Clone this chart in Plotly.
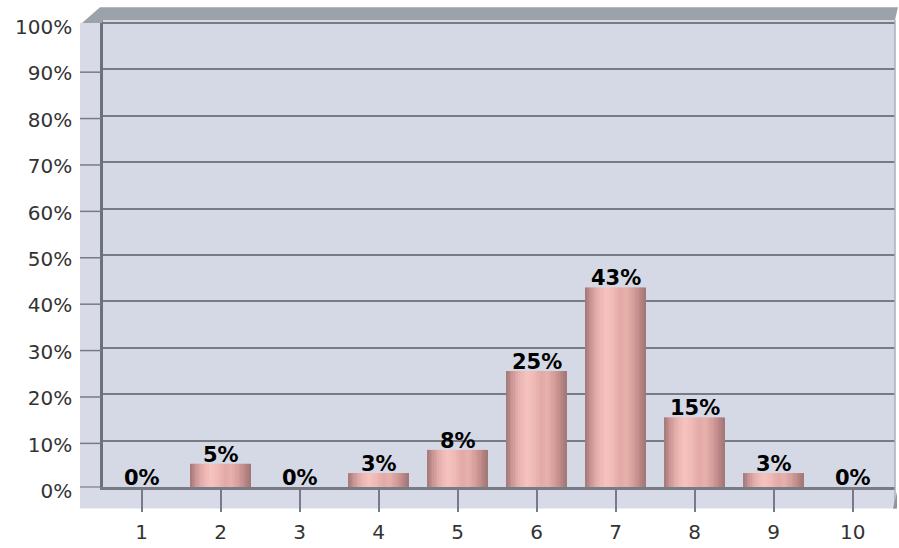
import plotly.graph_objects as go

categories = [1, 2, 3, 4, 5, 6, 7, 8, 9, 10]
values = [0, 5, 0, 3, 8, 25, 43, 15, 3, 0]
y_ticks = [0, 10, 20, 30, 40, 50, 60, 70, 80, 90, 100]
y_tick_labels = [f"{v}%" for v in y_ticks]
bar_labels = [f"{v}%" for v in values]

W, H = 899, 548
L, R, T, B = 103, 4, 20, 52
PW, PH = W - L - R, H - T - B


def px(x):
    return (x - L) / PW


def py(y):
    return (H - B - y) / PH


def hex2rgb(h):
    h = h.lstrip("#")
    return [int(h[i:i + 2], 16) for i in (0, 2, 4)]


def lerp(c1, c2, t):
    a, b = hex2rgb(c1), hex2rgb(c2)
    return "rgb(%d,%d,%d)" % tuple(round(a[k] + (b[k] - a[k]) * t) for k in range(3))


fig = go.Figure()

# cylinder-like shading: key colours across the bar width
keys = [(0.0, "#a27677"), (0.08, "#c69291"), (0.2, "#e6b0ad"), (0.33, "#f6c3bf"),
        (0.45, "#f0bab7"), (0.58, "#e2aaa7"), (0.68, "#e7b0ad"), (0.8, "#d49e9b"),
        (0.92, "#b98584"), (1.0, "#9e7576")]
bw = 0.76
n = 36
sw = bw / n
for i in range(n):
    t = (i + 0.5) / n
    for j in range(len(keys) - 1):
        if keys[j][0] <= t <= keys[j + 1][0]:
            f = (t - keys[j][0]) / (keys[j + 1][0] - keys[j][0])
            col = lerp(keys[j][1], keys[j + 1][1], f)
            break
    fig.add_trace(go.Bar(
        x=categories, y=values,
        width=[sw * 1.15] * len(categories),
        offset=[-bw / 2 + i * sw] * len(categories),
        marker=dict(color=col, line=dict(width=0)),
        hoverinfo="skip", showlegend=False,
    ))

for xv, yv, t in zip(categories, values, bar_labels):
    fig.add_annotation(x=xv, y=yv, text=t, showarrow=False, xanchor="center",
                       yanchor="bottom", yshift=-5,
                       font=dict(family="DejaVu Sans", size=21, color="#000000", weight="bold"))

shapes = []
wall = "#d8dbe7"
# left wall + floor
shapes.append(dict(type="path", xref="paper", yref="paper", layer="below",
                   path=f"M {px(80)} {py(23)} L {px(103)} {py(20)} L {px(103)} {py(496)} L {px(895)} {py(496)} "
                        f"L {px(895)} {py(518)} L {px(80)} {py(518)} Z",
                   fillcolor=wall, line=dict(width=0)))
# top band
shapes.append(dict(type="path", xref="paper", yref="paper", layer="above",
                   path=f"M {px(82)} {py(23)} L {px(100)} {py(7)} L {px(898)} {py(7)} L {px(895)} {py(20)} "
                        f"L {px(103)} {py(20)} L {px(102)} {py(23)} Z",
                   fillcolor="#9ba2aa", line=dict(width=0)))
# right edge
shapes.append(dict(type="line", xref="paper", yref="paper", layer="above",
                   x0=px(895), x1=px(895), y0=py(20), y1=py(518),
                   line=dict(color="#a9aeb8", width=1.5)))
shapes.append(dict(type="path", xref="paper", yref="paper", layer="above",
                   path=f"M {px(893)} {py(518)} L {px(897)} {py(501)} L {px(897)} {py(518)} Z",
                   fillcolor="#8e949c", line=dict(width=0)))
# gridlines on the left wall
for v in y_ticks[1:-1]:
    shapes.append(dict(type="line", xref="paper", yref="y", layer="above",
                       x0=px(80), x1=px(102), y0=v - 0.6, y1=v - 0.6,
                       line=dict(color="#767b86", width=1.5)))
shapes.append(dict(type="line", xref="paper", yref="paper", layer="below",
                   x0=px(80), x1=px(103), y0=py(496), y1=py(496),
                   line=dict(color="#8a8f99", width=1.5)))

fig.update_layout(
    width=W, height=H,
    margin=dict(l=L, r=R, t=T, b=B),
    paper_bgcolor="white",
    plot_bgcolor="#d5d9e6",
    barmode="overlay",
    shapes=shapes,
    xaxis=dict(range=[0.51, 10.535], tickvals=categories, ticktext=[str(c) for c in categories],
               showgrid=False, zeroline=False,
               showline=True, linecolor="#767b86", linewidth=2.5,
               ticks="outside", ticklen=22, tickwidth=1.5, tickcolor="#767b86",
               tickfont=dict(family="DejaVu Sans", size=20, color="#333333"),
               ticklabelstandoff=3, fixedrange=True),
    yaxis=dict(range=[0, 100.64], tickvals=y_ticks, ticktext=y_tick_labels,
               showgrid=True, gridcolor="#767b86", gridwidth=1.5,
               zeroline=False, showline=True, linecolor="#6b707b", linewidth=2.5,
               ticks="", ticklabelstandoff=24, ticklabelshift=4,
               ticklabeloverflow="allow",
               tickfont=dict(family="DejaVu Sans", size=20, color="#333333"),
               fixedrange=True),
)

fig.write_html("out.html", config={"displayModeBar": False},
               post_script="document.body.style.margin='0';document.body.style.overflow='hidden';")
